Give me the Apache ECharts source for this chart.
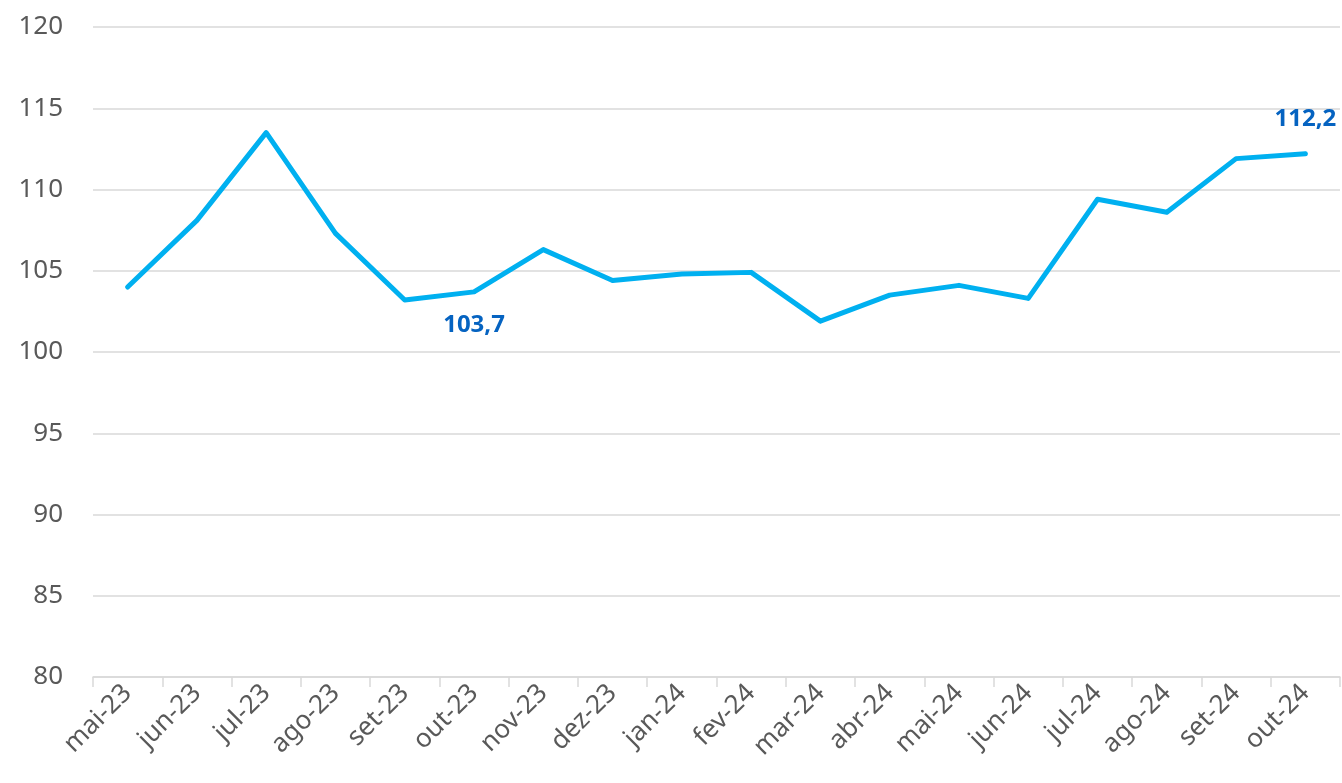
<!DOCTYPE html>
<html>
<head>
<meta charset="utf-8">
<script src="https://cdn.jsdelivr.net/npm/echarts@6/dist/echarts.min.js"></script>
<style>
  html, body { margin: 0; padding: 0; background: #fff; }
  #chart { width: 1342px; height: 783px; }
</style>
</head>
<body>
<div id="chart"></div>
<script>
const months = ['mai-23', 'jun-23', 'jul-23', 'ago-23', 'set-23', 'out-23', 'nov-23', 'dez-23', 'jan-24',
  'fev-24', 'mar-24', 'abr-24', 'mai-24', 'jun-24', 'jul-24', 'ago-24', 'set-24', 'out-24']
const indexValues = [104.0, 108.1, 113.5, 107.3, 103.2, 103.7, 106.3, 104.4, 104.8,
  104.9, 101.9, 103.5, 104.1, 103.3, 109.4, 108.6, 111.9, 112.2]
// rótulos só em out-23 (abaixo) e out-24 (acima)
const labelBelow = ['out-23']
const labelAbove = ['out-24']

const fontFamily = '"Noto Sans", "Open Sans", sans-serif'
const gridColor = '#d9d9d9'

const seriesData = indexValues.map((v, i) => {
  const m = months[i]
  if (labelBelow.includes(m) || labelAbove.includes(m)) {
    return {
      value: v,
      label: {
        show: true,
        position: labelBelow.includes(m) ? 'bottom' : 'top',
        distance: labelBelow.includes(m) ? 19 : 21,
        formatter: p => String(p.value).replace('.', ','),
        color: '#0563c1',
        fontWeight: 'bold',
        fontSize: 24,
        fontFamily
      }
    }
  }
  return v
})

const option = {
  animation: false,
  grid: {
    left: 93,
    right: 2,
    top: 27,
    bottom: 106
  },
  xAxis: {
    type: 'category',
    data: months,
    boundaryGap: true,
    axisLine: { lineStyle: { color: gridColor, width: 1.5 } },
    axisTick: { show: true, length: 10, lineStyle: { color: gridColor, width: 1.5 } },
    axisLabel: {
      rotate: 45,
      color: '#595959',
      fontSize: 26,
      fontFamily,
      margin: 12
    }
  },
  yAxis: {
    type: 'value',
    min: 80,
    max: 120,
    interval: 5,
    axisLine: { show: false },
    axisTick: { show: false },
    axisLabel: {
      color: '#595959',
      fontSize: 26,
      fontFamily,
      margin: 30
    },
    splitLine: { lineStyle: { color: gridColor, width: 1.5 } }
  },
  series: [
    {
      type: 'line',
      data: seriesData,
      symbol: 'circle',
      symbolSize: 4,
      showSymbol: true,
      lineStyle: { color: '#00b0f0', width: 5, cap: 'round', join: 'round' },
      itemStyle: { color: '#00b0f0' }
    }
  ]
}

const myChart = echarts.init(document.getElementById('chart'))
myChart.setOption(option)
</script>
</body>
</html>
